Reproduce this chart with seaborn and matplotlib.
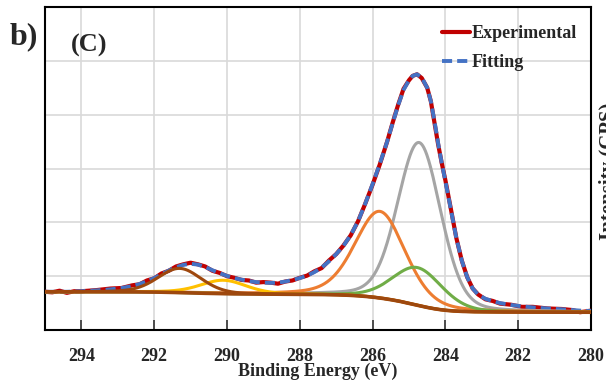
import numpy as np
import pandas as pd
import matplotlib
matplotlib.use("Agg")
import matplotlib.pyplot as plt
import seaborn as sns

# Measured C 1s spectrum: binding energy (eV) and intensity (grid units)
exp_be = [295.0, 294.8, 294.6, 294.4, 294.2, 294.0, 293.6, 293.2, 292.9, 292.6,
          292.4, 292.2, 292.0, 291.8, 291.6, 291.4, 291.2, 291.0, 290.8, 290.6,
          290.4, 290.2, 290.0, 289.8, 289.6, 289.4, 289.2, 289.0, 288.8, 288.6,
          288.4, 288.2, 288.0, 287.8, 287.6, 287.4, 287.2, 287.0, 286.8, 286.6,
          286.4, 286.2, 286.0, 285.8, 285.6, 285.45, 285.3, 285.15, 285.0, 284.9,
          284.78, 284.65, 284.5, 284.4, 284.3, 284.2, 284.1, 284.0, 283.85, 283.7,
          283.55, 283.4, 283.25, 283.1, 282.9, 282.7, 282.5, 282.2, 281.9, 281.6,
          281.2, 280.8, 280.5, 280.3, 280.1, 280.0]
exp_int = [0.71, 0.70, 0.73, 0.69, 0.72, 0.72, 0.74, 0.77, 0.78, 0.83,
           0.85, 0.92, 0.96, 1.05, 1.10, 1.18, 1.22, 1.25, 1.22, 1.18,
           1.10, 1.06, 1.00, 0.97, 0.93, 0.92, 0.88, 0.89, 0.88, 0.86,
           0.90, 0.92, 0.97, 1.01, 1.09, 1.15, 1.29, 1.41, 1.57, 1.76,
           2.02, 2.35, 2.70, 3.08, 3.50, 3.85, 4.18, 4.48, 4.64, 4.72,
           4.75, 4.68, 4.50, 4.25, 3.85, 3.45, 3.10, 2.78, 2.25, 1.71,
           1.29, 0.98, 0.77, 0.66, 0.57, 0.54, 0.49, 0.47, 0.43, 0.43,
           0.40, 0.39, 0.37, 0.33, 0.35, 0.36]

# Fitted envelope sampled at the same energies
fit_int = [0.71, 0.71, 0.71, 0.71, 0.715, 0.72, 0.735, 0.755, 0.78, 0.815,
           0.855, 0.905, 0.965, 1.035, 1.105, 1.165, 1.21, 1.23, 1.215, 1.17,
           1.11, 1.055, 1.005, 0.965, 0.935, 0.91, 0.89, 0.88, 0.875, 0.88,
           0.90, 0.93, 0.965, 1.01, 1.075, 1.16, 1.275, 1.41, 1.565, 1.765,
           2.02, 2.35, 2.71, 3.09, 3.50, 3.84, 4.17, 4.46, 4.64, 4.72,
           4.75, 4.69, 4.50, 4.25, 3.88, 3.47, 3.10, 2.76, 2.24, 1.71,
           1.29, 0.98, 0.77, 0.655, 0.58, 0.535, 0.50, 0.465, 0.44, 0.42,
           0.40, 0.385, 0.37, 0.36, 0.355, 0.355]

# Fitted components: centre (eV), height above background, FWHM (eV), Lorentzian fraction
peak_centers = [284.72, 285.80, 284.76, 290.10, 291.30]
peak_heights = [3.03, 1.61, 0.70, 0.25, 0.45]
peak_fwhm = [1.40, 1.62, 1.60, 1.50, 1.40]
peak_mix = [0.20, 0.30, 0.20, 0.30, 0.20]
peak_colors = ["#A5A5A5", "#ED7D31", "#70AD47", "#FFC000", "#9E480E"]

# Shirley background end levels (high-BE side, low-BE side)
bg_high = 0.71
bg_low = 0.33

x_ticks = [294, 292, 290, 288, 286, 284, 282, 280]
legend_labels = ["Experimental", "Fitting"]


def pseudo_voigt(x, c, h, w, m):
    t = ((x - c) / w) ** 2
    return h * ((1 - m) * np.exp(-4 * np.log(2) * t) + m / (1 + 4 * t))


be = np.linspace(280.0, 295.0, 1501)
peaks = [pseudo_voigt(be, c, h, w, m)
         for c, h, w, m in zip(peak_centers, peak_heights, peak_fwhm, peak_mix)]
total = np.sum(peaks, axis=0)
cum = np.concatenate([[0.0], np.cumsum((total[1:] + total[:-1]) / 2 * np.diff(be))])
background = bg_low + (bg_high - bg_low) * cum / cum[-1]

sns.set_theme(style="whitegrid")
plt.rcParams["font.family"] = ["Liberation Serif", "DejaVu Serif"]
plt.rcParams["font.weight"] = "bold"

fig = plt.figure(figsize=(6.06, 3.85), dpi=100)
ax = fig.add_axes([45 / 606, 55 / 385, 546 / 606, 323 / 385])

spec = pd.DataFrame({"be": exp_be, "exp": exp_int, "fit": fit_int})
sns.lineplot(data=spec, x="be", y="exp", ax=ax, color="#C00000",
             lw=3.0, estimator=None, sort=False, zorder=3)
exp_line = ax.lines[-1]
exp_line.set_solid_joinstyle("round")

sns.lineplot(data=spec, x="be", y="fit", ax=ax, color="#4472C4",
             lw=2.8, estimator=None, sort=False, zorder=4)
fit_line = ax.lines[-1]
fit_line.set_dashes((2.6, 1.3))
fit_line.set_dash_capstyle("butt")

for p, col in zip(peaks, peak_colors):
    sns.lineplot(x=be, y=background + p, ax=ax, color=col, lw=2.2,
                 estimator=None, sort=False, zorder=5)
sns.lineplot(x=be, y=background, ax=ax, color="#9E480E", lw=2.6,
             estimator=None, sort=False, zorder=6)

ax.set_xlim(295, 280)
ax.set_ylim(0, 6)
ax.set_xticks(x_ticks)
ax.set_xticklabels([str(t) for t in x_ticks], fontsize=13, fontweight="bold")
ax.set_yticks(np.arange(0, 7, 1))
ax.tick_params(axis="y", length=0, labelleft=False)
ax.tick_params(axis="x", direction="in", length=7, width=1.2, color="#333333",
               pad=13, bottom=True)
ax.grid(True, color="#D9D9D9", lw=1.2)
for s in ax.spines.values():
    s.set_visible(True)
    s.set_color("black")
    s.set_linewidth(1.5)

ax.set_xlabel("Binding Energy (eV)", fontsize=13, fontweight="bold", va="center")
ax.xaxis.set_label_coords(0.5, -0.128)
ax.set_ylabel("")

ax.legend([exp_line, fit_line], legend_labels, loc="upper left",
          bbox_to_anchor=(0.727, 0.944), frameon=False,
          handlelength=1.55, handletextpad=0.12, labelspacing=0.65,
          borderpad=0, borderaxespad=0, prop={"weight": "bold", "size": 13})

fig.text(24 / 606, 1 - 37 / 385, "b)", fontsize=23, fontweight="bold",
         ha="center", va="center")
fig.text(89 / 606, 1 - 45 / 385, "(C)", fontsize=19, fontweight="bold",
         ha="center", va="center")
fig.text(599 / 606, 1 - 171 / 385, "Intensity (CPS)", rotation=90, fontsize=15,
         fontweight="bold", ha="left", va="center")

fig.savefig("out.png", dpi=100)
